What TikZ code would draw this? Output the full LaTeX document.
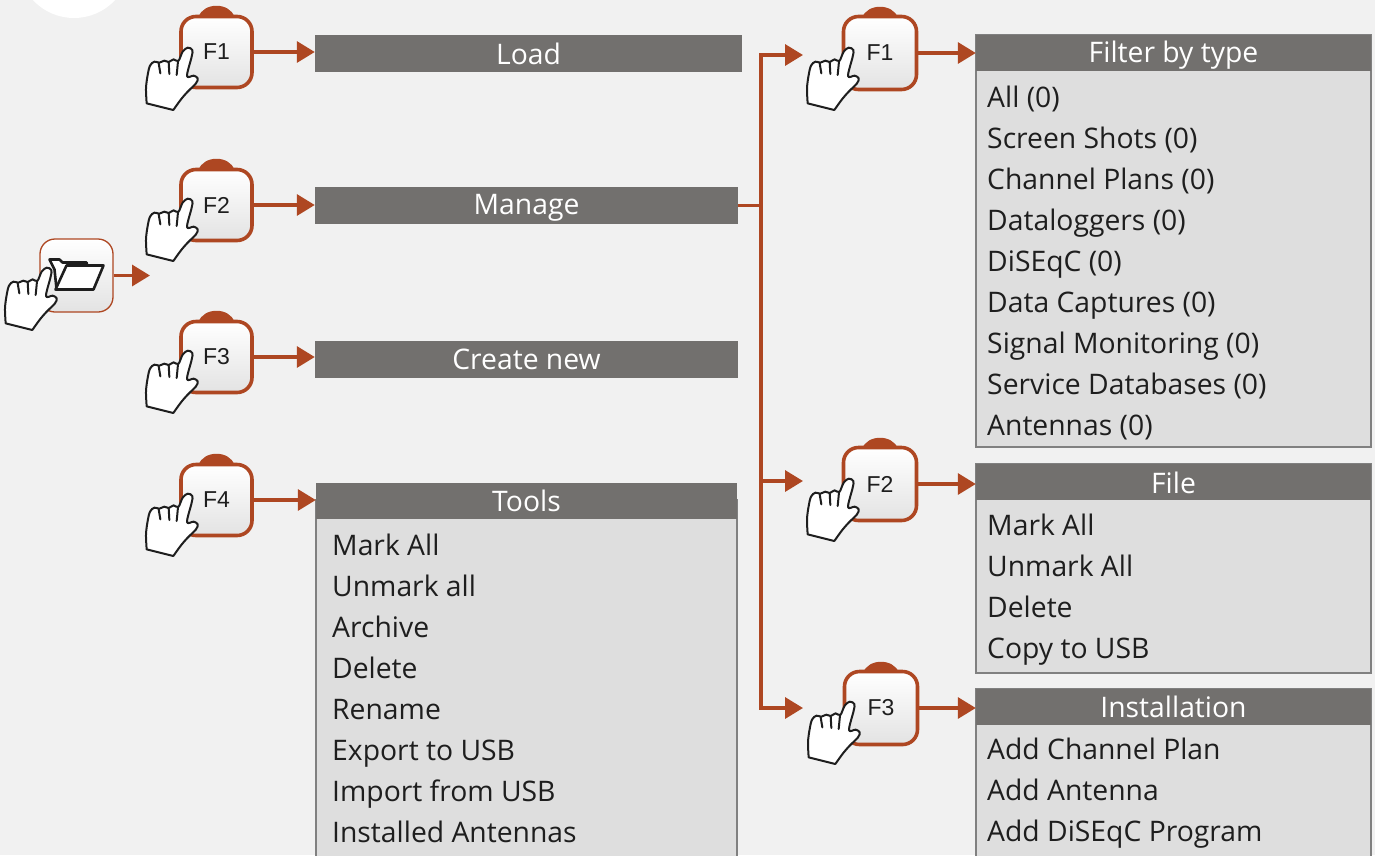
\documentclass[tikz,border=0pt]{standalone}
\usepackage{fontspec}
\setmainfont{Open Sans}
\newfontfamily\keyfont{Liberation Sans}
\usetikzlibrary{arrows.meta,calc}
\definecolor{bgc}{HTML}{F1F1F1}
\definecolor{rust}{HTML}{AE4722}
\definecolor{barc}{HTML}{72706E}
\definecolor{panelc}{HTML}{DEDEDE}
\definecolor{edgec}{HTML}{808080}
\definecolor{inkc}{HTML}{1E1E1E}
\tikzset{
  bar/.style={fill=barc,draw=none,inner sep=0pt,text=white,font=\fontsize{28.3}{28.3}\selectfont,text depth=0pt},
  panel/.style={fill=panelc,draw=edgec,line width=1.2pt,inner sep=0pt},
  item/.style={anchor=base west,inner sep=0pt,text=inkc,yshift=-1pt,font=\fontsize{28.3}{28.3}\selectfont},
  btn/.style={draw=rust,line width=3.6pt,rounded corners=15pt,top color=white,bottom color=black!11,minimum width=71pt,minimum height=71pt,inner sep=0pt,text=inkc,font=\keyfont\fontsize{23}{23}\selectfont},
  conn/.style={draw=rust,line width=3.4pt},
  tip/.style={-{Triangle[length=18pt,width=21pt]}},
  hand/.pic={
    \begin{scope}[x=0.3333pt,y=-0.3333pt,shift={(-555,-150)}]
    \draw[fill=white,draw=inkc,line width=2pt,line join=round]
      plot[smooth,tension=.55] coordinates {(437,310)(435,265)(440,225)(447,197)(460,185)(475,188)(490,182)(503,186)(518,178)(532,183)(545,155)(560,143)(574,150)(572,170)(558,228)(578,227)(590,235)(585,250)(560,275)(540,298)(517,330)} -- cycle;
    \draw[draw=inkc,line width=2pt,line cap=round] (473,190)--(478,220) (503,186)--(505,222) (531,184)--(527,225);
    \end{scope}
  }
}
\newcommand{\fkey}[5][71pt]{%
  \fill[rust] (#3-18,#4-35) .. controls (#3-13,#4-50) and (#3+13,#4-50) .. (#3+18,#4-35) -- cycle;
  \node[btn,minimum width=#1,minimum height=#1] (#2) at (#3,#4) {\raisebox{-1.5pt}{#5}};
}
\begin{document}
\begin{tikzpicture}[x=1pt,y=-1pt]
\path[clip] (0,0) rectangle (1375,855);
\fill[bgc] (0,0) rectangle (1375,855);
\fill[white] (74,-38) circle (56);

% bars
\node[bar,minimum width=427pt,minimum height=37pt] (load) at (528.5,53.5) {\raisebox{-1pt}{Load}};
\node[bar,minimum width=423pt,minimum height=37pt] (manage) at (526.5,205.5) {\raisebox{3pt}{Manage}};
\node[bar,minimum width=423pt,minimum height=37pt] (create) at (526.5,359.5) {Create new};

% left panel
\node[panel,minimum width=421pt,minimum height=380pt] (toolsp) at (526.5,690) {};
\node[bar,minimum width=421pt,minimum height=36pt] (tools) at (526.5,501) {Tools};
\node[item] (t1) at (332,554.5) {Mark All};
\node[item] (t2) at (332,595.5) {Unmark all};
\node[item] (t3) at (332,636.5) {Archive};
\node[item] (t4) at (332,677.5) {Delete};
\node[item] (t5) at (332,718.5) {Rename};
\node[item] (t6) at (332,759.5) {Export to USB};
\node[item] (t7) at (332,800.5) {Import from USB};
\node[item] (t8) at (332,841.5) {Installed Antennas};

% right panels
\node[panel,minimum width=395pt,minimum height=412pt] (filterp) at (1173.5,241) {};
\node[bar,minimum width=395pt,minimum height=36pt] (filter) at (1173.5,53) {\raisebox{3pt}{Filter by type}};
\node[item] (a1) at (987,106.5) {All (0)};
\node[item] (a2) at (987,147.5) {Screen Shots (0)};
\node[item] (a3) at (987,188.5) {Channel Plans (0)};
\node[item] (a4) at (987,229.5) {Dataloggers (0)};
\node[item] (a5) at (987,270.5) {DiSEqC (0)};
\node[item] (a6) at (987,311.5) {Data Captures (0)};
\node[item] (a7) at (987,352.5) {Signal Monitoring (0)};
\node[item] (a8) at (987,393.5) {Service Databases (0)};
\node[item] (a9) at (987,434.5) {Antennas (0)};

\node[panel,minimum width=395pt,minimum height=209pt] (filep) at (1173.5,568.5) {};
\node[bar,minimum width=395pt,minimum height=36pt] (file) at (1173.5,482) {\raisebox{-1pt}{File}};
\node[item] (b1) at (987,534.5) {Mark All};
\node[item] (b2) at (987,575.5) {Unmark All};
\node[item] (b3) at (987,616.5) {Delete};
\node[item] (b4) at (987,657.5) {Copy to USB};

\node[panel,minimum width=395pt,minimum height=180pt] (instp) at (1173.5,779) {};
\node[bar,minimum width=395pt,minimum height=36pt] (inst) at (1173.5,707) {Installation};
\node[item] (c1) at (987,758.5) {Add Channel Plan};
\node[item] (c2) at (987,799.5) {Add Antenna};
\node[item] (c3) at (987,840.5) {Add DiSEqC Program};

% keys
\fkey{k1}{216.5}{52}{F1}
\fkey{k2}{216.5}{205}{F2}
\fkey{k3}{216.5}{357}{F3}
\fkey{k4}{216.5}{500}{F4}
\fkey[73pt]{r1}{880}{53}{F1}
\fkey[73pt]{r2}{880}{484}{F2}
\fkey[73pt]{r3}{881}{708}{F3}

% folder button
\node[btn,line width=1.3pt,minimum width=73pt,minimum height=73pt] (open) at (76.5,275.5) {};
\draw[inkc,line width=2.6pt,line join=round,fill=white] ($(open)+(-27,-16)$) -- ($(open)+(-17,-16)$) -- ($(open)+(-14,-13)$) -- ($(open)+(10,-13)$) -- ($(open)+(11,-9)$) -- ($(open)+(-9,13)$) -- ($(open)+(-20,13)$) -- ($(open)+(-22,-6)$) -- cycle;
\draw[inkc,line width=2.6pt,line join=round,fill=white] ($(open)+(-10,-10)$) -- ($(open)+(27,-10)$) -- ($(open)+(17,14)$) -- ($(open)+(-21,14)$) -- cycle;

% connectors
\coordinate (openend) at (150,275.5);
\coordinate (jt) at (761,55);
\coordinate (j1) at (manage.east -| jt);
\coordinate (jm) at (761,481);
\coordinate (jb) at (761,708);
\coordinate (e1) at (803,55);
\coordinate (e2) at (803,481);
\coordinate (e3) at (803,708);
\draw[conn,tip] (open.east) -- (openend);
\draw[conn,tip] (k1.east) -- (k1.east -| load.west);
\draw[conn,tip] (k2.east) -- (k2.east -| manage.west);
\draw[conn,tip] (k3.east) -- (k3.east -| create.west);
\draw[conn,tip] (k4.east) -- (k4.east -| tools.west);
\draw[conn] (manage.east) -- (j1);
\draw[conn,tip] (j1) -- (jt) -- (e1);
\draw[conn,tip] (j1) -- (jm) -- (e2);
\draw[conn,tip] (jm) -- (jb) -- (e3);
\draw[conn,tip] (r1.east) -- (r1.east -| filter.west);
\draw[conn,tip] (r2.east) -- (r2.east -| file.west);
\draw[conn,tip] (r3.east) -- (r3.east -| inst.west);

% hands
\pic at (186,50) {hand};
\pic at (186,201) {hand};
\pic at (186,353) {hand};
\pic at (186,496) {hand};
\pic at (45,270) {hand};
\pic at (847,50) {hand};
\pic at (847,481) {hand};
\pic at (848,704) {hand};
\end{tikzpicture}
\end{document}
